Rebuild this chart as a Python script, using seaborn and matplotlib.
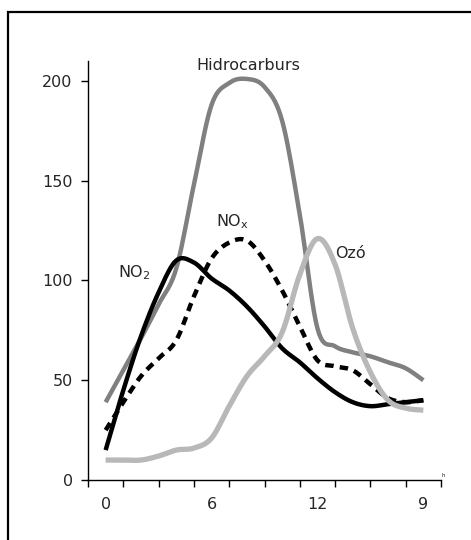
import matplotlib
matplotlib.use("Agg")
import matplotlib.pyplot as plt
import numpy as np
import pandas as pd
import seaborn as sns
from matplotlib.patches import Rectangle

# values read at half-category steps along the 10-category axis
x_pos = [k / 2 for k in range(19)]
hidrocarburs = [39, 55, 71, 88, 106, 148, 188, 199, 201, 197, 180, 133, 76, 67, 64, 62, 59, 56, 50]
no2 = [15, 45, 72, 94, 110, 109, 101, 95, 87, 77, 66, 59, 51, 44, 39, 37, 38, 39, 40]
nox = [25, 39, 52, 61, 70, 92, 111, 119, 120, 110, 95, 77, 60, 57, 55, 48, 41, 39, 40]
ozo = [10, 10, 10, 12, 15, 16, 21, 37, 52, 62, 74, 103, 121, 108, 76, 54, 40, 36, 35]

tick_pos = [0, 3, 6, 9]
tick_labels = ["0", "6", "12", "9"]
y_ticks = [0, 50, 100, 150, 200]


def smooth_line(xs, ys, steps=10):
    # Excel-style smoothed line: cubic Bezier through each point pair
    p = np.column_stack([xs, ys]).astype(float)
    p = np.vstack([p[0], p, p[-1]])
    out = []
    for i in range(1, len(p) - 2):
        p0, p1, p2, p3 = p[i - 1], p[i], p[i + 1], p[i + 2]
        c1 = p1 + (p2 - p0) / 6
        c2 = p2 - (p3 - p1) / 6
        t = np.linspace(0, 1, steps, endpoint=False)[:, None]
        seg = ((1 - t) ** 3) * p1 + 3 * ((1 - t) ** 2) * t * c1 + 3 * (1 - t) * t ** 2 * c2 + t ** 3 * p2
        out.append(seg)
    out.append(p[-2][None, :])
    out = np.vstack(out)
    return pd.DataFrame({"x": out[:, 0], "y": out[:, 1]})


sns.set_theme(style="white")
plt.rcParams["font.family"] = ["DejaVu Sans"]

fig = plt.figure(figsize=(4.71, 5.40), dpi=100)
ax = fig.add_axes([88 / 471, 1 - 480 / 540, (441 - 88) / 471, (480 - 61) / 540])

sns.lineplot(data=smooth_line(x_pos, hidrocarburs), x="x", y="y", color="#808080",
             linewidth=3.2, sort=False, ax=ax)
sns.lineplot(data=smooth_line(x_pos, no2), x="x", y="y", color="black",
             linewidth=3.2, sort=False, ax=ax)
sns.lineplot(data=smooth_line(x_pos, nox), x="x", y="y", color="black",
             linewidth=3.2, sort=False, linestyle=(0, (1.9, 1.4)), ax=ax)
sns.lineplot(data=smooth_line(x_pos, ozo), x="x", y="y", color="#b8b8b8",
             linewidth=3.8, sort=False, ax=ax)
for line in ax.lines:
    line.set_solid_capstyle("butt")
    line.set_dash_capstyle("butt")

ax.set_xlim(-0.5, 9.5)
ax.set_ylim(0, 210)
ax.set_xlabel("")
ax.set_ylabel("")

ax.set_xticks(np.arange(-0.5, 10, 1))
ax.set_xticklabels([])
ax.set_xticks(tick_pos, minor=True)
ax.set_xticklabels(tick_labels, minor=True, fontsize=11.5)
ax.tick_params(axis="x", which="major", direction="out", length=5, width=1, color="black", bottom=True)
ax.tick_params(axis="x", which="minor", length=0, pad=12, bottom=True)
ax.set_yticks(y_ticks)
ax.set_yticklabels([str(v) for v in y_ticks], fontsize=11.5)
ax.tick_params(axis="y", direction="out", length=5, width=1, color="black", left=True, pad=6)

for side in ["top", "right"]:
    ax.spines[side].set_visible(False)
for side in ["left", "bottom"]:
    ax.spines[side].set_color("black")
    ax.spines[side].set_linewidth(1)

ax.text(4.05, 204, "Hidrocarburs", fontsize=11.5, ha="center", va="bottom")
ax.text(3.6, 125, "NO$_\\mathregular{x}$", fontsize=11.5, ha="center", va="bottom")
ax.text(0.35, 99, "NO$_\\mathregular{2}$", fontsize=11.5, ha="left", va="bottom")
ax.text(6.5, 110, "Ozó", fontsize=11.5, ha="left", va="bottom")
ax.text(9.52, 1, "h", fontsize=4, ha="left", va="bottom")

fig.patches.append(Rectangle((8 / 471, -0.1), 1.2, 1 - 12 / 540 + 0.1, transform=fig.transFigure,
                             fill=False, edgecolor="black", linewidth=1.6))

fig.savefig("out.png", dpi=100)
